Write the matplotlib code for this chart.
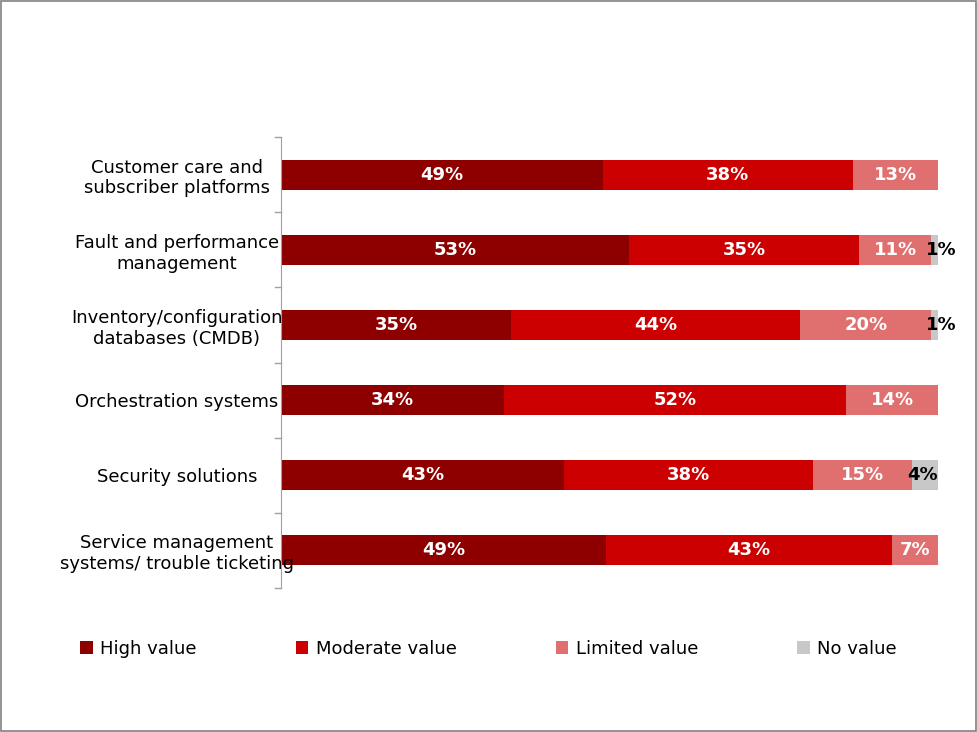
import matplotlib
matplotlib.use("Agg")
import matplotlib.pyplot as plt
import numpy as np

categories = ["Customer care and\nsubscriber platforms", "Fault and performance\nmanagement",
              "Inventory/configuration\ndatabases (CMDB)", "Orchestration systems",
              "Security solutions", "Service management\nsystems/ trouble ticketing"]
series_names = ["High value", "Moderate value", "Limited value", "No value"]
high = [49, 53, 35, 34, 43, 49]
moderate = [38, 35, 44, 52, 38, 43]
limited = [13, 11, 20, 14, 15, 7]
none_ = [0, 1, 1, 0, 4, 0]
colors = ["#8E0000", "#CC0000", "#E07070", "#C8C8C8"]
text_colors = ["white", "white", "white", "black"]

data = np.array([high, moderate, limited, none_], dtype=float)
totals = data.sum(axis=0)
norm = data / totals * 100

fig = plt.figure(figsize=(9.77, 7.32), dpi=100)
fig.patches.append(plt.Rectangle((0.001, 0.001), 0.998, 0.998, transform=fig.transFigure,
                                 fill=False, edgecolor="#808080", linewidth=1.2))
ax = fig.add_axes([281/977, 1-588/732, (938-281)/977, (588-137)/732])
y = np.arange(len(categories))
left = np.zeros(len(categories))
for i, name in enumerate(series_names):
    ax.barh(y, norm[i], left=left, height=0.4, color=colors[i], label=name)
    for j in range(len(categories)):
        if data[i, j] > 0:
            cx = left[j] + norm[i, j] / 2
            if i == 3:
                cx = left[j] + norm[i, j] / 2 - 0.3 if data[i, j] > 2 else 100.5
            ax.text(cx, y[j], f"{int(data[i, j])}%", ha="center", va="center",
                    color=text_colors[i], fontsize=13, fontweight="bold")
    left += norm[i]

ax.set_xlim(0, 100)
ax.set_ylim(len(categories) - 0.5, -0.5)
ax.set_yticks(y)
ax.set_yticklabels(categories, fontsize=13, ha="center")
ax.tick_params(axis="y", length=0, pad=75)
for b in np.arange(-0.5, len(categories), 1):
    ax.plot([-0.9, 0], [b, b], color="#A0A0A0", lw=1, clip_on=False)
ax.set_xticks([])
for s in ["top", "right", "bottom"]:
    ax.spines[s].set_visible(False)
ax.spines["left"].set_color("#A0A0A0")

fig.legend(loc="center", bbox_to_anchor=(0.5, 1-649/732), ncol=4, frameon=False,
           fontsize=13, handlelength=0.7, handleheight=0.7, columnspacing=5.5, handletextpad=0.4)
fig.savefig("out.png", dpi=100)
